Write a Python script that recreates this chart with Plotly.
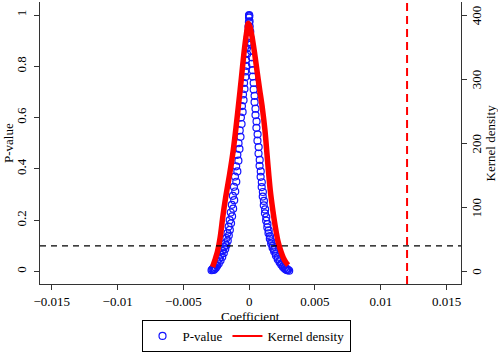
import plotly.graph_objects as go

# P-value scatter (coefficient in units of 1e-3, p-value)
p_left_b = [-2.86, -2.80, -2.73, -2.64, -2.54, -2.42, -2.30, -2.17, -2.04, -1.92, -1.82, -1.73, -1.65, -1.56,
            -1.48, -1.40, -1.32, -1.24, -1.16, -1.08, -0.99, -0.90, -0.81, -0.72, -0.63, -0.55, -0.47, -0.39,
            -0.31, -0.24, -0.17, -0.10, -0.05, -0.01]
p_left_p = [0.005, 0.008, 0.012, 0.018, 0.026, 0.037, 0.050, 0.065, 0.080, 0.095, 0.110, 0.130, 0.150, 0.175,
            0.200, 0.230, 0.260, 0.295, 0.330, 0.370, 0.410, 0.455, 0.500, 0.550, 0.600, 0.645, 0.690, 0.735,
            0.780, 0.825, 0.870, 0.915, 0.955, 0.990]
p_left2_b = [-2.70, -2.62, -2.53, -2.43, -2.31, -2.18, -2.05, -1.93, -1.82, -1.73, -1.63, -1.55, -1.47, -1.38,
             -1.30, -1.22, -1.14, -1.06, -0.98, -0.90, -0.82, -0.74, -0.66, -0.58, -0.50, -0.43, -0.36, -0.29,
             -0.22, -0.16, -0.10, -0.05, -0.02]
p_left2_p = [0.006, 0.010, 0.015, 0.022, 0.031, 0.043, 0.057, 0.072, 0.088, 0.102, 0.120, 0.140, 0.162, 0.188,
             0.215, 0.245, 0.278, 0.312, 0.350, 0.390, 0.432, 0.478, 0.525, 0.575, 0.622, 0.668, 0.712, 0.758,
             0.802, 0.848, 0.892, 0.935, 0.972]
p_right_b = [3.04, 2.95, 2.84, 2.72, 2.59, 2.45, 2.31, 2.17, 2.03, 1.90, 1.79, 1.68, 1.58, 1.48, 1.39, 1.30,
             1.21, 1.12, 1.04, 0.96, 0.88, 0.80, 0.72, 0.64, 0.56, 0.48, 0.41, 0.34, 0.27, 0.20, 0.14, 0.08, 0.03]
p_right_p = [0.003, 0.006, 0.010, 0.015, 0.022, 0.031, 0.042, 0.055, 0.070, 0.085, 0.100, 0.118, 0.138, 0.160,
             0.185, 0.212, 0.242, 0.275, 0.310, 0.348, 0.390, 0.435, 0.485, 0.535, 0.585, 0.635, 0.685, 0.735,
             0.785, 0.835, 0.885, 0.935, 0.975]
p_right2_b = [2.88, 2.79, 2.69, 2.57, 2.44, 2.31, 2.17, 2.03, 1.90, 1.78, 1.67, 1.57, 1.47, 1.38, 1.29, 1.20,
              1.11, 1.03, 0.95, 0.87, 0.79, 0.71, 0.63, 0.55, 0.48, 0.41, 0.34, 0.27, 0.21, 0.15, 0.09, 0.04, 0.005]
p_right2_p = [0.005, 0.008, 0.012, 0.018, 0.026, 0.036, 0.048, 0.062, 0.078, 0.093, 0.109, 0.128, 0.149, 0.172,
              0.198, 0.227, 0.258, 0.292, 0.329, 0.369, 0.412, 0.460, 0.510, 0.560, 0.610, 0.660, 0.710, 0.760,
              0.810, 0.860, 0.910, 0.955, 0.995]
p_peak_b = [0.0, -0.01]
p_peak_p = [1.0, 0.997]

# Kernel density (coefficient in units of 1e-3, density)
kd_b = [-2.78, -2.60, -2.40, -2.20, -2.00, -1.80, -1.60, -1.40, -1.20, -1.00, -0.80, -0.60, -0.40, -0.20,
        -0.08, 0.05, 0.20, 0.40, 0.60, 0.80, 1.00, 1.20, 1.40, 1.60, 1.80, 2.00, 2.20, 2.40, 2.60, 2.80, 2.96]
kd_d = [7, 18, 32, 54, 86, 114, 138, 163, 191, 225, 262, 300, 340, 372, 387, 382, 368, 342, 312, 283, 255,
        220, 172, 127, 95, 68, 46, 32, 21, 14, 10]

x_ticks = [-0.015, -0.01, -0.005, 0, 0.005, 0.01, 0.015]
y_ticks = [0, 0.2, 0.4, 0.6, 0.8, 1]
y2_ticks = [0, 100, 200, 300, 400]
y2_tick_labels = ["0", "100", "200", "300", "400"]
p_threshold = 0.1
vline_x = 0.012

scatter_x = [b / 1000 for b in p_left_b + p_left2_b + p_right_b + p_right2_b + p_peak_b]
scatter_y = p_left_p + p_left2_p + p_right_p + p_right2_p + p_peak_p
kd_x = [b / 1000 for b in kd_b]

FONT = "Liberation Serif, Times New Roman, serif"
BLUE = "#1414ff"
RED = "#ff0000"

fig = go.Figure()
fig.add_trace(go.Scatter(
    x=scatter_x, y=scatter_y, mode="markers", name="P-value",
    marker=dict(symbol="circle-open", size=7, color=BLUE, line=dict(width=1.2, color=BLUE)),
))
fig.add_trace(go.Scatter(
    x=kd_x, y=kd_d, mode="lines", name="Kernel density", yaxis="y2", showlegend=False,
    line=dict(color=RED, width=5.5, shape="spline", smoothing=0.8),
))
# legend entry for the kernel density (thin line, as in the reference legend)
fig.add_trace(go.Scatter(
    x=[None], y=[None], mode="lines", name="Kernel density", yaxis="y2",
    line=dict(color=RED, width=2),
))

fig.add_shape(type="line", xref="paper", x0=0, x1=1, yref="y", y0=p_threshold, y1=p_threshold,
              line=dict(color="black", width=1.3, dash="6px,5px"))
fig.add_shape(type="line", xref="x", x0=vline_x, x1=vline_x, yref="paper", y0=0, y1=1,
              line=dict(color=RED, width=2, dash="8px,5px"))

axis_common = dict(showgrid=False, zeroline=False, showline=True, linecolor="#333333", linewidth=1,
                   ticks="outside", ticklen=5, tickcolor="#333333", automargin=False,
                   tickfont=dict(family=FONT, size=13, color="black"))

# right-axis tick labels placed on the y2 scale
y2_label_annotations = [
    dict(text=lab, xref="paper", yref="y2", x=1.036, y=v, xanchor="center", yanchor="middle",
         textangle=-90, showarrow=False, font=dict(family=FONT, size=13))
    for v, lab in zip(y2_ticks, y2_tick_labels)
]

fig.update_layout(
    width=498, height=353, autosize=False,
    margin=dict(l=40, r=37, t=2, b=69),
    paper_bgcolor="white", plot_bgcolor="white",
    font=dict(family=FONT, size=13, color="black"),
    xaxis=dict(range=[-0.0159, 0.0161], tickvals=x_ticks, **axis_common),
    yaxis=dict(range=[-0.0487, 1.0507], tickvals=y_ticks, tickangle=-90, ticklabelstandoff=3, **axis_common),
    yaxis2=dict(range=[-19.5, 420.3], tickvals=y2_ticks, showticklabels=False, overlaying="y", side="right",
                **axis_common),
    legend=dict(orientation="h", xref="container", yref="container", x=0.494, xanchor="center",
                y=0.003, yanchor="bottom",
                bordercolor="black", borderwidth=1, font=dict(family=FONT, size=13),
                itemwidth=30, tracegroupgap=0),
    showlegend=True,
    annotations=[
        dict(text="Coefficient", xref="paper", yref="paper", x=0.5, y=-0.0816, yanchor="top",
             showarrow=False, font=dict(family=FONT, size=13)),
        dict(text="P-value", xref="paper", yref="paper", x=-0.076, xanchor="center", y=0.5, yanchor="middle",
             textangle=-90, showarrow=False, font=dict(family=FONT, size=13)),
        dict(text="Kernel density", xref="paper", yref="paper", x=1.07, xanchor="center", y=0.5,
             yanchor="middle", textangle=-90, showarrow=False, font=dict(family=FONT, size=13)),
    ] + y2_label_annotations,
)

fig.write_html("out.html", config={"displayModeBar": False, "responsive": False},
               post_script="document.body.style.margin='0';document.body.style.overflow='hidden';")
